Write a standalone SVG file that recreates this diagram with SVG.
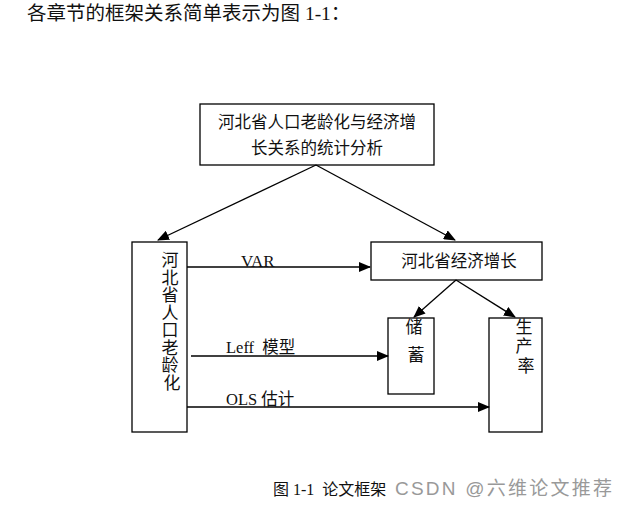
<svg xmlns="http://www.w3.org/2000/svg" width="628" height="508" viewBox="0 0 628 508">
<style>
.box{fill:#fff;stroke:#000;stroke-width:1.3}
.t{font-family:"Liberation Serif","Noto Sans CJK SC",serif;fill:#111}
.ln{stroke:#000;stroke-width:1.3;fill:none}
</style>
<defs>
<marker id="ah" markerWidth="12" markerHeight="10" refX="11" refY="5" orient="auto" markerUnits="userSpaceOnUse">
<path d="M0,0 L12,5 L0,10 z" fill="#000"/>
</marker>
</defs>
<rect width="628" height="508" fill="#fff"/>
<text class="t" x="27" y="20" font-size="19.5">各章节的框架关系简单表示为图 1-1：</text>

<g id="top">
<rect class="box" x="200" y="104" width="234" height="61"/>
<text class="t" x="317" y="128" font-size="16.5" text-anchor="middle">河北省人口老龄化与经济增</text>
<text class="t" x="317" y="154" font-size="16.5" text-anchor="middle">长关系的统计分析</text>
</g>

<g id="aging">
<rect class="box" x="132" y="242" width="55" height="190"/>
<text class="t" font-size="17" text-anchor="middle">
<tspan x="172" y="266">河</tspan>
<tspan x="172" y="283.5">北</tspan>
<tspan x="172" y="301">省</tspan>
<tspan x="172" y="318.5">人</tspan>
<tspan x="172" y="336">口</tspan>
<tspan x="172" y="353.5">老</tspan>
<tspan x="172" y="371">龄</tspan>
<tspan x="172" y="388.5">化</tspan>
</text>
</g>

<g id="growth">
<rect class="box" x="371" y="242" width="171" height="38"/>
<text class="t" x="459" y="267" font-size="16.5" text-anchor="middle">河北省经济增长</text>
</g>

<g id="saving">
<rect class="box" x="388" y="318" width="46" height="76"/>
<text class="t" font-size="17" text-anchor="middle">
<tspan x="416" y="333">储</tspan>
<tspan x="416" y="361">蓄</tspan>
</text>
</g>

<g id="productivity">
<rect class="box" x="489" y="318" width="53" height="114"/>
<text class="t" font-size="17" text-anchor="middle">
<tspan x="526" y="333">生</tspan>
<tspan x="526" y="352">产</tspan>
<tspan x="526" y="372">率</tspan>
</text>
</g>

<g id="connectors">
<line class="ln" x1="316" y1="165" x2="158" y2="240" marker-end="url(#ah)"/>
<line class="ln" x1="316" y1="165" x2="455" y2="240" marker-end="url(#ah)"/>
<line class="ln" x1="187" y1="267" x2="370" y2="267" marker-end="url(#ah)"/>
<line class="ln" x1="191" y1="356" x2="388" y2="356" marker-end="url(#ah)"/>
<line class="ln" x1="187" y1="407" x2="489" y2="407" marker-end="url(#ah)"/>
<line class="ln" x1="456" y1="280" x2="414" y2="317" marker-end="url(#ah)"/>
<line class="ln" x1="456" y1="280" x2="515" y2="317" marker-end="url(#ah)"/>
<text class="t" x="241" y="267" font-size="17">VAR</text>
<text class="t" x="226" y="353" font-size="16.5" xml:space="preserve">Leff  模型</text>
<text class="t" x="226" y="405" font-size="16.5">OLS 估计</text>
</g>

<text class="t" x="273" y="495" font-size="16" xml:space="preserve">图 1-1  论文框架</text>
<text x="395" y="495" font-size="19" textLength="217" lengthAdjust="spacing" font-family="Liberation Sans,Noto Sans CJK SC,sans-serif" fill="#999">CSDN @六维论文推荐</text>
</svg>
